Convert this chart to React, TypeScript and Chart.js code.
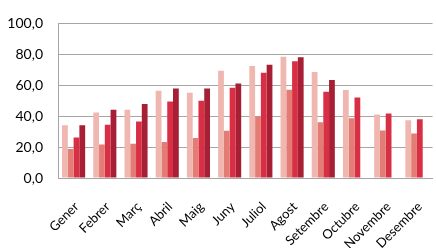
import React, { useEffect, useRef } from "react";
import { Chart, registerables } from "chart.js";

Chart.register(...registerables);

const months = ["Gener", "Febrer", "Març", "Abril", "Maig", "Juny", "Juliol", "Agost", "Setembre", "Octubre", "Novembre", "Desembre"];
const series1 = [34.2, 42.3, 44.2, 56.4, 55.2, 69.3, 72.4, 78.5, 68.5, 56.9, 41.1, 37.4];
const series2 = [18.8, 21.7, 22.1, 23.3, 25.8, 30.5, 39.7, 57.1, 36.0, 38.7, 30.7, 28.8];
const series3 = [26.2, 34.4, 36.6, 49.5, 49.9, 58.3, 68.1, 75.5, 55.8, 52.0, 41.7, 38.0];
const series4 = [34.2, 44.2, 47.9, 57.9, 57.9, 61.2, 73.2, 78.1, 63.4, null, null, null];
const colors = ["#F0B7B1", "#E37C74", "#D92F45", "#A61F34"];

export default function App() {
  const ref = useRef<HTMLCanvasElement>(null);
  useEffect(() => {
    document.body.style.margin = "0";
    const chart = new Chart(ref.current!, {
      type: "bar",
      data: {
        labels: months,
        datasets: [series1, series2, series3, series4].map((d, i) => ({
          label: "S" + (i + 1),
          data: d as any,
          backgroundColor: colors[i],
          borderWidth: 0,
          categoryPercentage: 0.74,
          barPercentage: 1,
        })),
      },
      options: {
        animation: false,
        responsive: false,
        layout: { padding: { top: 8, right: 1, left: 0, bottom: 0 } },
        plugins: { legend: { display: false }, tooltip: { enabled: false } },
        scales: {
          x: {
            grid: { display: false },
            border: { color: "#A6A6A6", width: 1 },
            ticks: {
              minRotation: 45,
              maxRotation: 45,
              color: "#000",
              font: { family: "Lato", size: 13 },
              padding: 13,
              labelOffset: 3,
            },
            afterFit: (s: any) => { s.height = 70; },
          },
          y: {
            min: 0,
            max: 100,
            ticks: {
              stepSize: 20,
              color: "#000",
              font: { family: "Lato", size: 14 },
              padding: 15,
              callback: (v: any) => Number(v).toFixed(1).replace(".", ","),
            },
            grid: { color: "#A6A6A6", lineWidth: 1, drawTicks: false },
            border: { color: "#A6A6A6", width: 1 },
            afterFit: (s: any) => { s.width = 58; },
          },
        },
      },
    });
    return () => chart.destroy();
  }, []);
  return (
    <div style={{ width: 436, height: 248, overflow: "hidden" }}>
      <canvas ref={ref} width={441} height={248} style={{ display: "block" }} />
    </div>
  );
}
